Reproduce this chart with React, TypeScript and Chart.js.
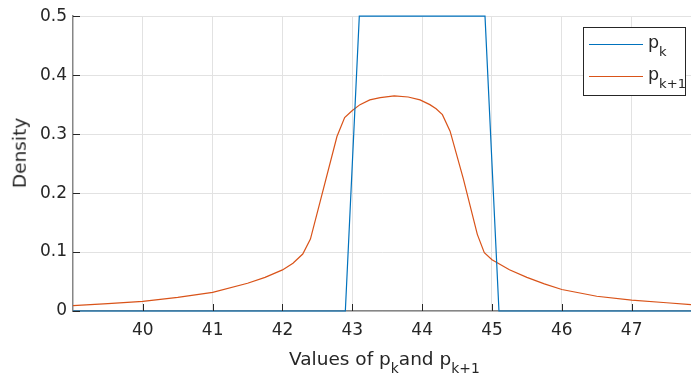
import React, { useEffect, useRef } from 'react';
import { Chart, registerables } from 'chart.js';
Chart.register(...registerables);

// ---- data ----
const pkX = [39.0, 42.9, 43.1, 44.9, 45.1, 47.85];
const pkY = [0, 0, 0.5, 0.5, 0, 0];

const pk1X = [39.0, 39.5, 40.0, 40.5, 41.0, 41.5, 41.75, 42.0, 42.15, 42.29, 42.4, 42.54, 42.78, 42.89, 43.0, 43.11, 43.25, 43.4, 43.6, 43.8, 43.97, 44.11, 44.2, 44.29, 44.4, 44.59, 44.79, 44.89, 45.0, 45.25, 45.5, 45.75, 46.0, 46.5, 47.0, 47.5, 47.85];
const pk1Y = [0.0092, 0.0124, 0.0163, 0.023, 0.0315, 0.047, 0.057, 0.0697, 0.081, 0.0966, 0.122, 0.186, 0.296, 0.328, 0.34, 0.35, 0.358, 0.362, 0.365, 0.363, 0.358, 0.35, 0.343, 0.333, 0.305, 0.224, 0.13, 0.099, 0.087, 0.07, 0.057, 0.046, 0.0365, 0.025, 0.0185, 0.014, 0.0108];

const xTicks = [40, 41, 42, 43, 44, 45, 46, 47];
const yTicks = [0, 0.1, 0.2, 0.3, 0.4, 0.5];
const yTickLabels = ['0', '0.1', '0.2', '0.3', '0.4', '0.5'];
const xMin = 39.0;
const xMax = 47.85;
const yMin = 0;
const yMax = 0.5;

const seriesNames = ['p', 'p'];
const seriesSubs = ['k', 'k+1'];
const xTitleParts = ['Values of p', 'k', 'and p', 'k+1'];
const yTitle = 'Density';

// ---- style ----
const W = 691;
const H = 379;
const FONT = "'DejaVu Sans', sans-serif";
const TEXT = '#262626';
const BLUE = '#0072BD';
const ORANGE = '#D95319';

const inwardTicks = {
  id: 'inwardTicks',
  afterDatasetsDraw(chart: any) {
    const { ctx, chartArea, scales } = chart;
    ctx.save();
    ctx.strokeStyle = TEXT;
    ctx.lineWidth = 1;
    ctx.beginPath();
    for (const v of xTicks) {
      const px = Math.round(scales.x.getPixelForValue(v)) + 0.5;
      ctx.moveTo(px, chartArea.bottom);
      ctx.lineTo(px, chartArea.bottom - 7);
    }
    for (const v of yTicks) {
      const py = Math.round(scales.y.getPixelForValue(v)) + 0.5;
      ctx.moveTo(chartArea.left, py);
      ctx.lineTo(chartArea.left + 7, py);
    }
    ctx.stroke();
    ctx.restore();
  },
};

const subStyle: React.CSSProperties = {
  fontSize: '0.75em',
  position: 'relative',
  top: '0.6em',
  lineHeight: 0,
};

export default function App() {
  const ref = useRef<HTMLCanvasElement | null>(null);

  useEffect(() => {
    if (!ref.current) return;
    const chart = new Chart(ref.current, {
      type: 'line',
      data: {
        datasets: [
          {
            label: 'pk',
            data: pkX.map((x, i) => ({ x, y: pkY[i] })),
            borderColor: BLUE,
            borderWidth: 1.2,
            pointRadius: 0,
            tension: 0,
            clip: false as any,
          },
          {
            label: 'pk+1',
            data: pk1X.map((x, i) => ({ x, y: pk1Y[i] })),
            borderColor: ORANGE,
            borderWidth: 1.2,
            pointRadius: 0,
            tension: 0,
            clip: false as any,
          },
        ],
      },
      options: {
        animation: false,
        responsive: false,
        devicePixelRatio: 1,
        layout: { padding: { left: 0, right: 0, top: 13, bottom: 0 } },
        plugins: { legend: { display: false }, tooltip: { enabled: false } },
        scales: {
          x: {
            type: 'linear',
            min: xMin,
            max: xMax,
            afterBuildTicks: (s: any) => {
              s.ticks = xTicks.map((value) => ({ value }));
            },
            afterFit: (s: any) => {
              s.height = 68;
            },
            grid: { color: '#e2e2e2', lineWidth: 1, drawTicks: false },
            border: { color: '#868686', width: 1.5 },
            ticks: {
              color: TEXT,
              font: { family: FONT, size: 17 },
              padding: 9,
              maxRotation: 0,
              autoSkip: false,
              callback: (v: any) => String(v),
            },
          },
          y: {
            type: 'linear',
            min: yMin,
            max: yMax,
            afterBuildTicks: (s: any) => {
              s.ticks = yTicks.map((value) => ({ value }));
            },
            afterFit: (s: any) => {
              s.width = 73;
            },
            grid: { color: '#e2e2e2', lineWidth: 1, drawTicks: false },
            border: { color: '#868686', width: 1.5 },
            ticks: {
              color: TEXT,
              font: { family: FONT, size: 17 },
              padding: 6,
              autoSkip: false,
              callback: (_v: any, i: number) => yTickLabels[i],
            },
          },
        },
      },
      plugins: [inwardTicks],
    });
    return () => chart.destroy();
  }, []);

  return (
    <div style={{ position: 'fixed', left: 0, top: 0, width: W, height: H, background: '#fff', fontFamily: FONT, color: TEXT }}>
      <canvas ref={ref} width={W} height={H} style={{ position: 'absolute', left: 0, top: 0, width: W, height: H }} />
      {/* y title */}
      <div
        style={{
          position: 'absolute',
          left: 20,
          top: 153,
          fontSize: 18.5,
          lineHeight: 1,
          whiteSpace: 'nowrap',
          transform: 'translate(-50%, -50%) rotate(-90deg)',
        }}
      >
        {yTitle}
      </div>
      {/* x title */}
      <div style={{ position: 'absolute', left: 289, top: 350, fontSize: 18.5, lineHeight: 1, whiteSpace: 'nowrap' }}>
        {xTitleParts[0]}
        <span style={subStyle}>{xTitleParts[1]}</span>
        {xTitleParts[2]}
        <span style={subStyle}>{xTitleParts[3]}</span>
      </div>
      {/* legend */}
      <div
        style={{
          position: 'absolute',
          left: 583,
          top: 27,
          width: 101,
          height: 67,
          border: `1px solid ${TEXT}`,
          background: '#fff',
        }}
      >
        {[BLUE, ORANGE].map((c, i) => (
          <React.Fragment key={i}>
            <div style={{ position: 'absolute', left: 5, top: 17 + i * 32 - 1, width: 54, height: 1.2, background: c }} />
            <div style={{ position: 'absolute', left: 64, top: 6 + i * 32, fontSize: 17.5, lineHeight: 1, whiteSpace: 'nowrap' }}>
              {seriesNames[i]}
              <span style={subStyle}>{seriesSubs[i]}</span>
            </div>
          </React.Fragment>
        ))}
      </div>
    </div>
  );
}
